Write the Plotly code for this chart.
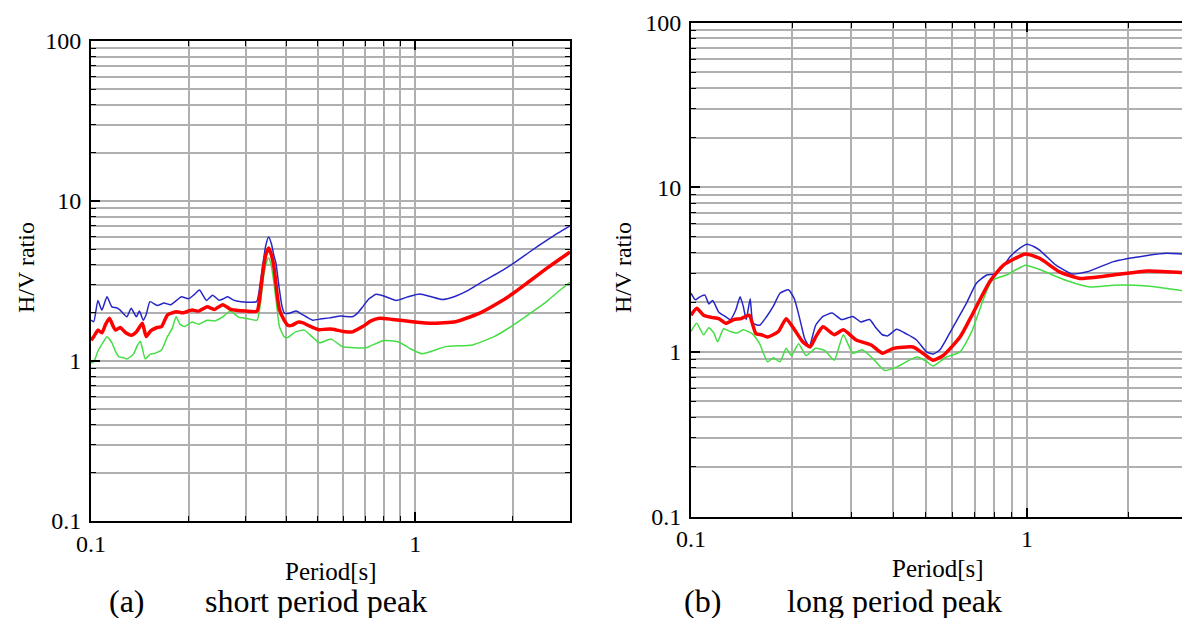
import plotly.graph_objects as go

# ---------------- data: panel (a) short period peak ----------------
a_blue_T = [0.100, 0.102, 0.105, 0.108, 0.112, 0.116, 0.120, 0.123, 0.129, 0.133, 0.138, 0.141, 0.145, 0.148,
            0.152, 0.160, 0.168, 0.176, 0.184, 0.190, 0.200, 0.208, 0.216, 0.222, 0.227, 0.237, 0.248, 0.256,
            0.264, 0.275, 0.290, 0.324, 0.332, 0.339, 0.346, 0.353, 0.360, 0.366, 0.372, 0.380, 0.388, 0.395,
            0.410, 0.429, 0.445, 0.461, 0.483, 0.510, 0.544, 0.590, 0.640, 0.665, 0.688, 0.720, 0.757, 0.800,
            0.874, 0.950, 1.03, 1.12, 1.21, 1.33, 1.45, 1.58, 1.80, 2.00, 2.25, 2.54, 2.75, 3.00]
a_blue_V = [1.80, 1.76, 2.39, 2.08, 2.52, 2.18, 2.15, 2.08, 1.89, 2.14, 1.89, 2.05, 1.80, 1.95,
            2.35, 2.22, 2.30, 2.25, 2.40, 2.52, 2.45, 2.60, 2.78, 2.55, 2.39, 2.58, 2.40, 2.45,
            2.52, 2.40, 2.35, 2.35, 3.00, 4.06, 5.30, 5.96, 5.40, 4.60, 4.06, 2.90, 2.20, 1.99,
            1.99, 2.05, 1.97, 1.89, 1.80, 1.83, 1.86, 1.91, 1.89, 2.00, 2.18, 2.45, 2.61, 2.55,
            2.39, 2.52, 2.62, 2.52, 2.42, 2.54, 2.75, 3.06, 3.55, 4.06, 4.80, 5.67, 6.30, 7.00]

a_red_T = [0.100, 0.102, 0.105, 0.108, 0.111, 0.114, 0.117, 0.119, 0.123, 0.128, 0.133, 0.138, 0.144, 0.148,
           0.153, 0.160, 0.165, 0.172, 0.178, 0.184, 0.192, 0.205, 0.215, 0.228, 0.240, 0.255, 0.270, 0.300,
           0.325, 0.333, 0.340, 0.347, 0.353, 0.360, 0.367, 0.375, 0.381, 0.394, 0.405, 0.416, 0.435, 0.451,
           0.473, 0.503, 0.530, 0.556, 0.600, 0.640, 0.688, 0.730, 0.776, 0.850, 0.980, 1.13, 1.33, 1.58,
           1.80, 2.00, 2.25, 2.54, 2.75, 3.00]
a_red_V = [1.35, 1.42, 1.56, 1.50, 1.70, 1.85, 1.65, 1.56, 1.62, 1.50, 1.45, 1.52, 1.72, 1.42,
           1.55, 1.62, 1.64, 1.94, 2.00, 2.03, 2.00, 2.08, 2.05, 2.18, 2.10, 2.25, 2.10, 2.05,
           2.05, 2.70, 3.80, 4.70, 5.08, 4.60, 3.80, 2.60, 2.10, 1.80, 1.67, 1.67, 1.75, 1.73,
           1.65, 1.57, 1.58, 1.58, 1.53, 1.52, 1.64, 1.78, 1.85, 1.82, 1.76, 1.72, 1.76, 1.99,
           2.30, 2.64, 3.15, 3.79, 4.25, 4.80]

a_green_T = [0.100, 0.102, 0.105, 0.107, 0.110, 0.112, 0.116, 0.119, 0.122, 0.126, 0.129, 0.135, 0.139, 0.142,
             0.147, 0.152, 0.158, 0.165, 0.172, 0.178, 0.183, 0.188, 0.194, 0.205, 0.215, 0.228, 0.240, 0.255,
             0.269, 0.285, 0.300, 0.325, 0.333, 0.340, 0.347, 0.353, 0.360, 0.367, 0.375, 0.381, 0.394, 0.404,
             0.427, 0.455, 0.480, 0.507, 0.550, 0.596, 0.650, 0.706, 0.795, 0.885, 0.960, 1.05, 1.24, 1.50,
             1.75, 2.00, 2.25, 2.54, 2.75, 3.00]
a_green_V = [0.97, 0.99, 1.15, 1.23, 1.35, 1.42, 1.30, 1.15, 1.06, 1.05, 1.03, 1.10, 1.25, 1.33,
             1.03, 1.10, 1.12, 1.17, 1.42, 1.60, 1.89, 1.70, 1.64, 1.75, 1.70, 1.80, 1.78, 1.89,
             2.05, 1.88, 1.85, 1.80, 2.30, 3.30, 4.10, 4.40, 3.90, 3.00, 2.10, 1.64, 1.42, 1.40,
             1.52, 1.56, 1.42, 1.30, 1.37, 1.23, 1.21, 1.21, 1.34, 1.32, 1.20, 1.11, 1.23, 1.26,
             1.42, 1.67, 1.97, 2.35, 2.70, 3.10]

# ---------------- data: panel (b) long period peak ----------------
b_blue_T = [0.100, 0.103, 0.106, 0.110, 0.113, 0.116, 0.121, 0.126, 0.131, 0.136, 0.140, 0.143, 0.146, 0.150,
            0.153, 0.160, 0.168, 0.176, 0.184, 0.195, 0.203, 0.211, 0.218, 0.225, 0.235, 0.247, 0.263, 0.281,
            0.303, 0.320, 0.340, 0.355, 0.371, 0.385, 0.409, 0.439, 0.469, 0.502, 0.525, 0.551, 0.603, 0.660,
            0.707, 0.759, 0.802, 0.850, 0.890, 0.950, 1.00, 1.05, 1.09, 1.15, 1.22, 1.36, 1.51, 1.81,
            2.28, 2.61, 2.89, 3.00]
b_blue_V = [2.27, 2.07, 2.15, 2.21, 1.95, 2.05, 1.74, 1.65, 1.57, 1.80, 2.16, 1.90, 1.57, 2.10,
            1.49, 1.45, 1.64, 1.90, 2.27, 2.38, 2.10, 1.57, 1.20, 1.08, 1.45, 1.64, 1.72, 1.57,
            1.64, 1.52, 1.57, 1.40, 1.27, 1.25, 1.37, 1.28, 1.18, 1.00, 0.97, 1.03, 1.42, 1.97,
            2.61, 2.93, 2.97, 3.30, 3.78, 4.25, 4.50, 4.35, 4.15, 3.75, 3.36, 2.97, 3.06, 3.53,
            3.85, 3.97, 3.93, 3.92]

b_red_T = [0.100, 0.104, 0.109, 0.115, 0.121, 0.127, 0.134, 0.141, 0.149, 0.156, 0.162, 0.169, 0.182, 0.192,
           0.202, 0.215, 0.226, 0.236, 0.247, 0.267, 0.284, 0.310, 0.344, 0.371, 0.400, 0.458, 0.490, 0.525,
           0.563, 0.632, 0.690, 0.775, 0.851, 0.990, 1.09, 1.25, 1.44, 1.81, 2.28, 2.89, 3.00]
b_red_V = [1.67, 1.84, 1.67, 1.62, 1.59, 1.49, 1.57, 1.59, 1.67, 1.29, 1.27, 1.23, 1.33, 1.59,
           1.39, 1.15, 1.07, 1.25, 1.42, 1.27, 1.36, 1.18, 1.10, 0.98, 1.05, 1.07, 0.98, 0.89,
           0.95, 1.23, 1.71, 2.67, 3.36, 3.93, 3.70, 3.06, 2.79, 2.93, 3.10, 3.03, 3.02]

b_green_T = [0.100, 0.104, 0.109, 0.113, 0.117, 0.120, 0.125, 0.131, 0.137, 0.143, 0.152, 0.160, 0.169, 0.176,
             0.184, 0.192, 0.199, 0.209, 0.220, 0.235, 0.250, 0.267, 0.284, 0.303, 0.323, 0.348, 0.377, 0.410,
             0.469, 0.500, 0.525, 0.576, 0.632, 0.685, 0.740, 0.786, 0.870, 0.990, 1.09, 1.31, 1.54, 1.81,
             2.28, 2.89, 3.00]
b_green_V = [1.33, 1.49, 1.27, 1.40, 1.30, 1.15, 1.38, 1.33, 1.30, 1.36, 1.29, 1.12, 0.87, 0.92,
             0.87, 1.05, 0.95, 1.12, 0.95, 1.05, 1.02, 0.89, 1.27, 0.98, 1.03, 0.91, 0.77, 0.81,
             0.93, 0.88, 0.82, 0.93, 1.00, 1.33, 2.06, 2.71, 2.93, 3.36, 3.16, 2.71, 2.48, 2.54,
             2.51, 2.36, 2.35]

# ---------------- axis labels / texts ----------------
y_tickvals = [0.1, 1, 10, 100]
y_ticktext = ["0.1", "1", "10", "100"]
x_tickvals = [0.1, 1]
x_ticktext = ["0.1", "1"]
y_title = "H/V ratio"
x_title = "Period[s]"
captions = [("(a)", "short period peak"), ("(b)", "long period peak")]

W, H = 1182, 618
FONT = "Liberation Serif"
GRID = "#b0b0b0"

BLUE = "#2626c8"
RED = "#ff0000"
GREEN = "#44dd44"

fig = go.Figure()

panels = [
    (a_blue_T, a_blue_V, a_red_T, a_red_V, a_green_T, a_green_V, "x", "y"),
    (b_blue_T, b_blue_V, b_red_T, b_red_V, b_green_T, b_green_V, "x2", "y2"),
]
for bt, bv, rt, rv, gt, gv, xa, ya in panels:
    fig.add_trace(go.Scatter(x=bt, y=bv, mode="lines", line=dict(color=BLUE, width=1.5, shape="spline", smoothing=0.5),
                             xaxis=xa, yaxis=ya, showlegend=False))
    fig.add_trace(go.Scatter(x=gt, y=gv, mode="lines", line=dict(color=GREEN, width=1.5, shape="spline", smoothing=0.5),
                             xaxis=xa, yaxis=ya, showlegend=False))
    fig.add_trace(go.Scatter(x=rt, y=rv, mode="lines", line=dict(color=RED, width=3.5, shape="spline", smoothing=0.5),
                             xaxis=xa, yaxis=ya, showlegend=False))

# pixel geometry
L_left, L_right, L_top, L_bot = 91, 570, 41, 521
R_left, R_right, R_top, R_bot = 691, 1182, 22.5, 516.5
R_xmax = -1 + (R_right - R_left) / 336.0


def xaxis_cfg(domain, rng, mirror):
    return dict(type="log", domain=domain, range=rng, showline=True, linecolor="black", linewidth=2,
                mirror=mirror, ticks="inside", ticklen=9, tickwidth=1.5, tickcolor="black",
                tickvals=x_tickvals, ticktext=x_ticktext, automargin=False,
                tickfont=dict(family=FONT, size=24, color="black"),
                showgrid=True, gridcolor=GRID, gridwidth=1.5, zeroline=False,
                minor=dict(dtick="D1", ticks="inside", ticklen=5, tickwidth=1.2, tickcolor="black",
                           showgrid=True, gridcolor=GRID, gridwidth=1.5))


def yaxis_cfg(domain, anchor, mirror):
    return dict(type="log", domain=domain, range=[-1, 2], anchor=anchor, showline=True, linecolor="black",
                linewidth=2, mirror=mirror, ticks="inside", ticklen=9, tickwidth=1.5, tickcolor="black",
                tickvals=y_tickvals, ticktext=y_ticktext, automargin=False, ticklabelstandoff=3,
                tickfont=dict(family=FONT, size=24, color="black"),
                showgrid=True, gridcolor=GRID, gridwidth=1.5, zeroline=False,
                minor=dict(dtick="D1", ticks="inside", ticklen=5, tickwidth=1.2, tickcolor="black",
                           showgrid=True, gridcolor=GRID, gridwidth=1.5))


fig.update_layout(
    width=W, height=H, autosize=False,
    margin=dict(l=0, r=0, t=0, b=0, pad=0),
    paper_bgcolor="white", plot_bgcolor="white",
    xaxis=xaxis_cfg([L_left / W, L_right / W], [-1, 0.477], "allticks") | dict(anchor="y"),
    yaxis=yaxis_cfg([1 - L_bot / H, 1 - L_top / H], "x", "allticks"),
    xaxis2=xaxis_cfg([R_left / W, R_right / W], [-1, R_xmax], "allticks") | dict(anchor="y2"),
    yaxis2=yaxis_cfg([1 - R_bot / H, 1 - R_top / H], "x2", False),
)

ann = []


def add_text(txt, px, py, size, angle=0, xanchor="center"):
    ann.append(dict(text=txt, x=px / W, y=1 - py / H, xref="paper", yref="paper", showarrow=False,
                    xanchor=xanchor, yanchor="middle", textangle=angle,
                    font=dict(family=FONT, size=size, color="black")))


add_text(y_title, 26, 268, 24, angle=-90)
add_text(y_title, 623, 268, 24, angle=-90)
add_text(x_title, 331, 571, 25)
add_text(x_title, 938, 568, 25)
add_text(captions[0][0], 107, 601, 32, xanchor="left")
add_text(captions[0][1], 203, 601, 32, xanchor="left")
add_text(captions[1][0], 682, 601, 32, xanchor="left")
add_text(captions[1][1], 785, 601, 32, xanchor="left")
fig.update_layout(annotations=ann)

fig.write_html("out.html")
